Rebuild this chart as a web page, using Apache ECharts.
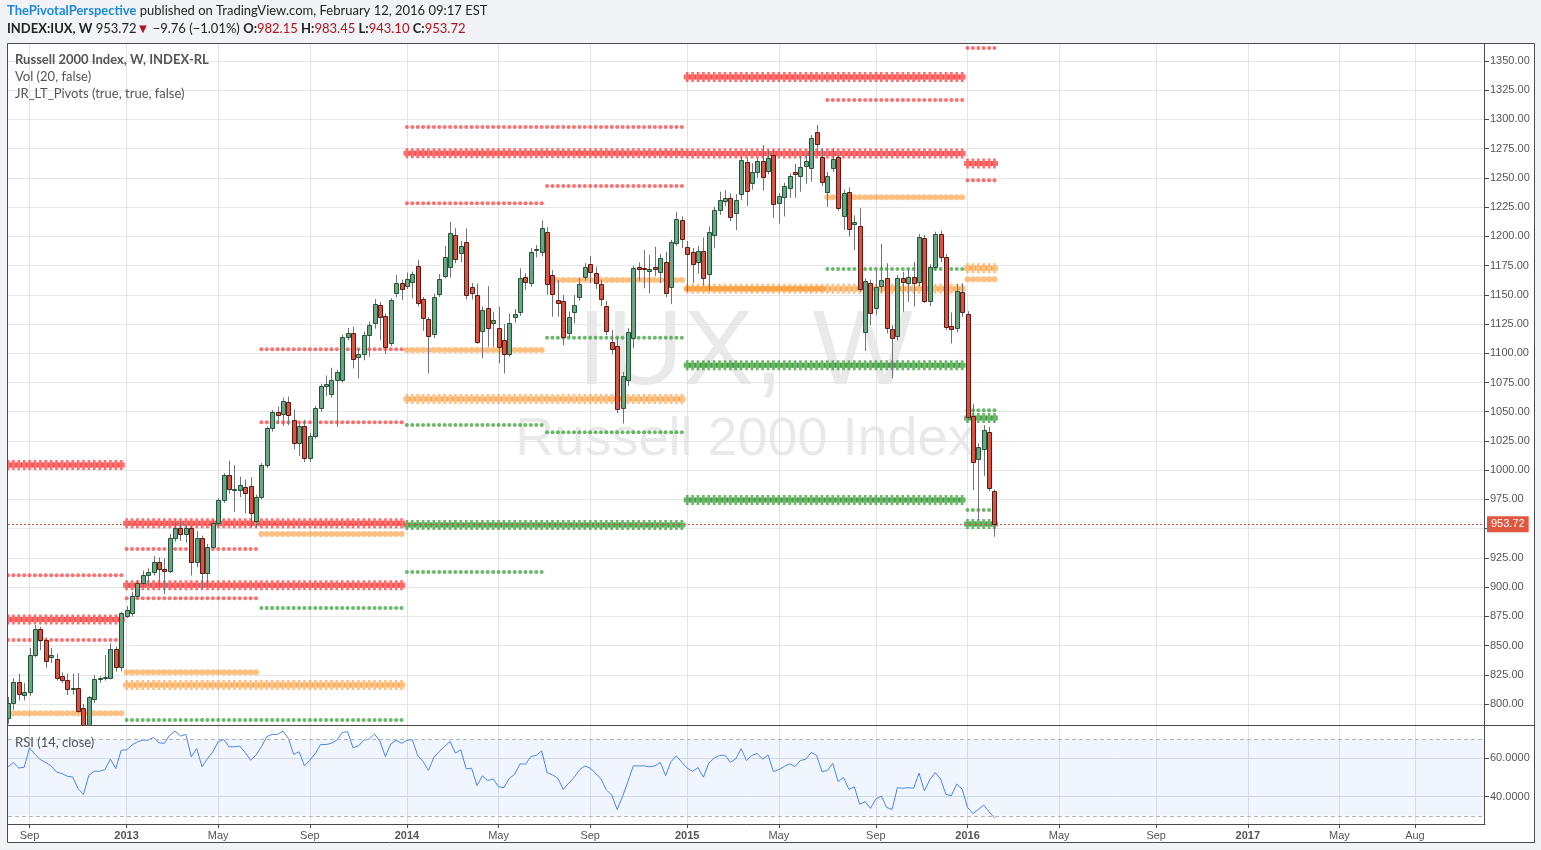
<!DOCTYPE html>
<html><head><meta charset="utf-8">
<script src="https://cdn.jsdelivr.net/npm/echarts/dist/echarts.min.js"></script>
<style>html,body{margin:0;padding:0;background:#f1f3f6;}#c{width:1541px;height:850px;}</style>
</head><body><div id="c"></div><script>
// ---------------- DATA ----------------
const firstWeek = '2012-08-06';
const weekCount = 275;
const opens = [788,801,818.6,808,810.5,842,864,854.7,840,838.5,824,820.5,812.8,813.5,796.6,775,804.3,821.4,822,822.2,847,831.6,
875.3,878,892.4,903.8,910.3,912.6,921.7,915.2,913.8,941.8,950.9,945.2,950.9,921.7,941.8,911.8,934.5,954.6,974.5,995.9,983.6,983.1,985.9,986.5,956.5,976.8,1004.4,1035.8,1049.5,1048,1058,1042.9,1022.9,1037.8,1010.2,1029.2,1052.9,1072,1064.9,1077.1,1077.1,1114,1117,1097,1099.4,1116,1125.7,1141,1131.9,1109,1151.2,1159.8,
1157.8,1161.2,1174.6,1146.1,1129,1116.2,1150.7,1166,1173.5,1201.2,1186.1,1194.9,1157,1149.8,1119.3,1138.4,1126.2,1121.3,1111.3,1099.4,1131.3,1135,1165,1160.4,1188.5,1186.9,1203.5,1166.9,1145.6,1144.7,1117,1135.6,1148.4,1165.5,1176,1168.4,1159.3,1140.7,1109.3,1106.5,1052.9,1077.1,1112.8,1173.5,1173,1170.7,1173.5,1169.2,1178.3,1156.4,1194.6,1214,
1191.1,1186.4,1177.8,1187.8,1167.5,1201.2,1222.6,1230,1232.6,1219.7,1236.2,1263.5,1245.3,1255,1264.5,1256.2,1269.6,1228.8,1233.4,1241.3,1255.3,1251.7,1259.9,1258.2,1289.5,1268.2,1238.2,1258.2,1267.6,1217.7,1237.7,1211,1208.9,1118.5,1159.8,1138.4,1157.2,1164,1120.4,1114.5,1164.1,1160.4,1165,1160.7,1198.3,1145,1174,1201.7,1182,1123.5,1121.3,1152.7,
1133.3,1046.3,1009.3,1018.4,1032.4,982.15];
const highs = [806,822,826,818,848,867.5,866,857,848,843,827,826,826,826.5,800,807,824.8,823.5,842,852,849,879,
883.8,896,906,914,916,926.6,925.5,924.6,945.5,956,956,953.5,952.5,948,944,937,957,976,997.5,1008,1004.4,994.5,992,994,979,1006,1037.5,1051.5,1054.4,1062,1062.9,1052,1040,1043,1032,1055,1074,1081,1087.6,1086,1116,1121.6,1122.7,1104,1118.5,1127,1146.4,1144,1134,1147,1167,1163,
1169,1170,1180,1148,1131,1151,1167.8,1191.8,1212.5,1207,1196,1206.9,1160,1159.8,1140,1157.5,1135.6,1140,1125,1134,1138,1172.7,1168.4,1190,1192.6,1213.6,1208,1171.2,1162.7,1150,1135.6,1149.8,1164.1,1177,1183.2,1174,1163,1145,1119.9,1114.2,1084.2,1121.4,1175,1177.8,1188.3,1184,1191.1,1185,1186.9,1197,1221.1,1217,
1196,1190,1192,1199,1208.3,1225.4,1238.2,1239.6,1236.8,1236.2,1268,1267,1262.5,1266.8,1278.2,1273.9,1273.9,1237,1246,1254,1262,1268.2,1271,1286.7,1295.3,1275,1255,1275.3,1270,1240,1242,1218,1224,1164,1163,1170.5,1193.5,1177,1124,1167,1169.7,1171.2,1178.3,1202,1201,1176,1204,1204.9,1185,1135,1159.3,1159.8,
1136,1056.6,1023,1038.5,1037,983.45];
const lows = [783,795,803,803,807,840,846,831,835,820,818,807.7,808,792.5,767,770,801,818,820,821,827.6,828,
873.6,874.7,890,900,901,910,900,894,912,939,939.5,938,910,917,899,900,933,952,972,980,964.5,977,963,951.6,950.5,975,1002,1033,1039.6,1038,1038.6,1018,1012,1007,1007,1027,1050,1063.5,1062,1037,1075,1111,1087,1078.5,1094,1097,1121,1111,1099.4,1106,1148,1145.6,
1155,1147,1140,1119.3,1082.8,1113,1148,1164,1165,1177,1178,1146,1146,1108,1095.7,1105.6,1105.6,1091.4,1082.8,1097,1126,1132,1154,1157,1182,1183,1150,1131.3,1131.3,1107,1113,1125.6,1145,1162,1160,1155,1140.4,1115.6,1099,1049,1040,1072,1104.2,1162,1155.5,1151.2,1166,1160,1148,1142.2,1192,1190,
1152.7,1160,1168,1158,1154,1189.8,1218.3,1226,1213,1205.4,1231.1,1226,1240,1250,1239,1253,1215.9,1211,1217,1233,1233,1238.2,1245,1246.8,1270,1243,1225.1,1255,1222,1205.4,1199.7,1188.3,1152.7,1102,1124.2,1132.7,1152,1117,1078.5,1111,1135.6,1144,1140,1157,1143,1140.4,1171,1178,1120,1108.5,1118,1131,
1043,983,957.4,995,982,943.10];
const closes = [801,818.6,808.5,810.5,841.9,863.9,854.7,836.8,841.5,822.2,820.5,812.8,813.5,794,775,806,821.4,822,823.5,847,831.6,878,
880.4,892.4,903.8,910.3,912.6,921.7,915.2,913.8,941.8,950.9,945.2,950.9,921.7,941.8,911.8,934,954.6,974.5,995.9,983.6,984.2,987.3,980.2,963.1,976.8,1004.4,1035.8,1049.5,1047.2,1059.2,1047.2,1022.9,1037.8,1010.2,1029.2,1052.9,1072,1073.7,1077.1,1083.7,1113.7,1117,1094.9,1099.4,1115.6,1124.2,1141.9,1130.8,1105.6,1145.6,1159.8,1154.7,
1163.2,1167.5,1143.3,1129.9,1114.8,1147.8,1163.2,1182,1202.6,1180.4,1191.8,1149.8,1151.8,1109.9,1137,1121.8,1128.5,1105.6,1099.4,1125.6,1133.3,1164.1,1161.2,1186.9,1189,1206.9,1159,1150.4,1143.3,1113.7,1130.8,1141.3,1159.3,1173.5,1169.2,1159.8,1146.1,1119,1103.7,1052.3,1080.8,1118.1,1172.7,1172,1172.2,1172,1171.7,1181.2,1151.2,1194.9,1214.6,1197.5,
1184.6,1176,1187.8,1164.1,1204.1,1222.6,1231.1,1232.6,1216.3,1231.1,1265,1239.1,1255.3,1264.5,1250.5,1266.7,1227.4,1234.5,1243.1,1251.7,1253.5,1259.7,1264.8,1283.8,1279,1246.8,1251.7,1265.8,1224.5,1237.4,1206,1212,1155,1161.5,1134.7,1156.4,1162.7,1121.8,1112.8,1164.1,1161.2,1165,1160.4,1199.2,1145,1174,1201.7,1182,1122.6,1120.7,1153.5,1135,
1045.5,1006.7,1019.5,1034.4,984.5,953.72];
const rsi = [55.6,57.8,55.0,55.4,65.6,62.1,59.4,57.9,56.1,52.9,52.1,50.7,50.3,44.2,41.2,51.2,53.3,53.3,54.2,59.6,54.7,64.3,
64.5,67.0,68.7,69.6,69.6,71.0,68.2,67.9,72.2,74.3,71.7,72.6,60.8,65.2,55.6,59.9,63.5,68.7,69.9,66.1,66.1,66.5,63.1,59.1,61.7,66.1,71.4,72.6,72.6,74.3,70.5,62.1,63.5,56.1,59.1,62.6,67.3,67.3,67.9,69.6,73.6,74.0,65.6,66.5,69.6,70.1,72.8,68.9,61.0,67.5,69.5,67.9,
69.5,69.8,61.6,58.4,53.7,60.5,63.7,66.3,68.9,62.8,64.5,54.5,54.9,45.8,50.9,48.4,49.3,45.2,44.7,49.6,51.7,57.2,57.0,61.0,61.6,64.0,52.6,51.4,49.6,43.8,47.0,50.0,54.0,56.1,54.9,52.3,49.3,43.5,40.9,33.3,40.0,47.9,56.1,56.1,56.1,55.6,56.1,57.9,51.0,58.4,61.4,58.0,
54.9,53.3,55.2,50.2,57.5,60.2,61.6,61.6,58.0,59.8,65.1,58.9,61.6,62.6,59.6,61.9,53.1,54.2,55.8,57.2,55.8,58.9,59.6,63.1,61.6,53.1,53.7,57.4,47.9,50.0,43.8,45.2,36.0,37.4,33.9,38.8,40.3,34.4,33.3,44.7,44.4,44.7,44.4,52.3,43.1,48.8,52.6,49.3,41.2,40.5,46.6,44.0,
34.4,31.2,33.3,35.6,32.1,28.9];
// pivot levels: [period start, period end, level]
const redCross = [['2012-07-01','2012-12-31',1004.4],['2012-07-01','2012-12-31',872.2],['2013-01-01','2013-12-31',954.6],['2013-01-01','2013-12-31',901.5],
  ['2014-01-01','2014-12-31',1271.2],['2015-01-01','2015-12-31',1336.3],['2015-01-01','2015-12-31',1270.8],['2016-01-01','2016-12-31',1262.3]];
const redDot = [['2012-07-01','2012-12-31',910.1],['2012-07-01','2012-12-31',854.7],['2013-01-01','2013-06-30',932.6],['2013-01-01','2013-06-30',890.4],
  ['2013-07-01','2013-12-31',1103.5],['2013-07-01','2013-12-31',1040.9],['2014-01-01','2014-12-31',1293.5],['2014-01-01','2014-06-30',1228.3],
  ['2014-07-01','2014-12-31',1243.1],['2015-07-01','2015-12-31',1316.6],['2016-01-01','2016-06-30',1361.1],['2016-01-01','2016-06-30',1247.9]];
const orangeCross = [['2013-01-01','2013-12-31',816.3],['2014-01-01','2014-12-31',1060.8],['2015-01-01','2015-12-31',1155.3],['2016-01-01','2016-12-31',1172.7]];
const orangeDot = [['2012-07-01','2012-12-31',792.0],['2013-01-01','2013-06-30',827.1],['2013-07-01','2013-12-31',945.4],['2014-01-01','2014-06-30',1102.8],
  ['2014-07-01','2014-12-31',1162.7],['2015-01-01','2015-06-30',1155.3],['2015-07-01','2015-12-31',1233.5],['2016-01-01','2016-06-30',1163.3]];
const greenCross = [['2014-01-01','2014-12-31',953.1],['2015-01-01','2015-12-31',1089.7],['2015-01-01','2015-12-31',974.5],['2016-01-01','2016-12-31',1044.6],['2016-01-01','2016-12-31',954.0]];
const greenDot = [['2013-01-01','2013-12-31',786.3],['2013-07-01','2013-12-31',882.1],['2014-01-01','2014-06-30',912.9],['2014-01-01','2014-06-30',1038.6],
  ['2014-07-01','2014-12-31',1113.3],['2014-07-01','2014-12-31',1032.4],['2015-07-01','2015-12-31',1172.1],['2016-01-01','2016-06-30',1051.3],['2016-01-01','2016-06-30',966.0]];
const tickLabels = [['2012-09-03','Sep'],['2013-01-07','2013'],['2013-05-06','May'],['2013-09-02','Sep'],['2014-01-06','2014'],['2014-05-05','May'],
  ['2014-09-01','Sep'],['2015-01-05','2015'],['2015-05-04','May'],['2015-09-07','Sep'],['2016-01-04','2016'],['2016-05-02','May'],['2016-09-05','Sep'],
  ['2017-01-02','2017'],['2017-05-01','May'],['2017-08-07','Aug']];
const priceTicks = {min: 782.04, max: 1365.4, step: 25};
const rsiTicks = {min: 25.7, max: 77.5, step: 20, lower: 30, upper: 70};

// ---------------- BUILD ----------------
const weeks = [];
{ const t0 = Date.parse(firstWeek + 'T00:00:00Z');
  for (let k = 0; k < weekCount; k++) weeks.push(new Date(t0 + k * 7 * 86400000).toISOString().slice(0, 10)); }
const labelAt = {};
tickLabels.forEach(([d, t]) => { const i = weeks.indexOf(d); if (i >= 0) labelAt[i] = t; });
const showAt = (i) => labelAt[i] !== undefined;
const nBars = closes.length;
const candleData = closes.map((c, i) => [i, opens[i], c, lows[i], highs[i]]);
function segPoints(segs) {
  const out = [];
  segs.forEach(([s, e, v]) => weeks.forEach((w, i) => { if (i < nBars && w >= s && w <= e) out.push([i, v]); }));
  return out;
}
const lastClose = closes[nBars - 1];
const plusPath = 'path://M0,4.5H4V0H9V4.5H13V13.5H9V18H4V13.5H0Z';
const RED = 'rgba(255,62,62,0.93)', ORANGE = 'rgba(255,148,40,0.72)', GREEN = 'rgba(40,150,40,0.85)';
function markerSeries(segs, color, symbol, size) {
  return { type: 'scatter', xAxisIndex: 0, yAxisIndex: 0, data: segPoints(segs), symbol: symbol, symbolSize: size,
    itemStyle: { color: color }, silent: true, z: 3 };
}
const FONT = 'Lato, "Liberation Sans", sans-serif';
const BG = '#f1f3f6';
const chart = echarts.init(document.getElementById('c'), null, { renderer: 'canvas' });
const gridL = 8, gridR = 56;
const option = {
  animation: false,
  backgroundColor: BG,
  textStyle: { fontFamily: '"Liberation Sans", Arial, sans-serif' },
  grid: [
    { left: gridL, right: gridR, top: 43, height: 682 },
    { left: gridL, right: gridR, top: 725, height: 99 }
  ],
  xAxis: [
    { type: 'category', gridIndex: 0, data: weeks, boundaryGap: false,
      axisLine: { show: false }, axisTick: { show: false }, axisLabel: { show: false },
      splitLine: { show: true, interval: showAt, lineStyle: { color: '#e3e3e3' } } },
    { type: 'category', gridIndex: 1, data: weeks, boundaryGap: false,
      axisLine: { show: true, lineStyle: { color: '#4a4a4a' } },
      axisTick: { show: true, interval: showAt, length: 4, lineStyle: { color: '#4a4a4a' } },
      axisLabel: { show: true, interval: showAt, margin: 6, color: '#555', fontSize: 11,
        formatter: (v, i) => { const t = labelAt[i]; if (t === undefined) return ''; return /^\d{4}$/.test(t) ? '{b|' + t + '}' : t; },
        rich: { b: { fontWeight: 'bold', color: '#555', fontSize: 11 } } },
      splitLine: { show: true, interval: showAt, lineStyle: { color: '#dfe2e8' } } }
  ],
  yAxis: [
    { type: 'value', gridIndex: 0, position: 'right', min: priceTicks.min, max: priceTicks.max,
      minInterval: priceTicks.step, maxInterval: priceTicks.step, splitNumber: 23,
      axisLine: { show: false }, axisTick: { show: true, length: 4, lineStyle: { color: '#4a4a4a' } },
      axisLabel: { show: true, showMinLabel: false, showMaxLabel: false, margin: 5, padding: [3, 0, 0, 0], color: '#555', fontSize: 11, formatter: v => v.toFixed(2) },
      splitLine: { show: true, lineStyle: { color: '#e6e6e6' } } },
    { type: 'value', gridIndex: 1, position: 'right', min: rsiTicks.min, max: rsiTicks.max,
      minInterval: rsiTicks.step, maxInterval: rsiTicks.step, splitNumber: 2,
      axisLine: { show: false }, axisTick: { show: true, length: 4, lineStyle: { color: '#4a4a4a' } },
      axisLabel: { show: true, showMinLabel: false, showMaxLabel: false, margin: 5, padding: [3, 0, 0, 0], color: '#555', fontSize: 11, formatter: v => v.toFixed(4) },
      splitLine: { show: true, lineStyle: { color: '#dde0e8' } } }
  ],
  series: [
    markerSeries(orangeDot, ORANGE, 'circle', 6),
    markerSeries(orangeCross, ORANGE, plusPath, [7, 10]),
    markerSeries(greenDot, GREEN, 'circle', 4),
    markerSeries(greenCross, GREEN, plusPath, [7, 10]),
    markerSeries(redDot, RED, 'circle', 4),
    markerSeries(redCross, RED, plusPath, [7, 10]),
    { type: 'custom', xAxisIndex: 0, yAxisIndex: 0, data: candleData, clip: true, z: 5,
      encode: { x: 0, y: [1, 2, 3, 4] },
      renderItem: (params, api) => {
        const i = api.value(0), o = api.value(1), c = api.value(2), l = api.value(3), h = api.value(4);
        const pO = api.coord([i, o]), pC = api.coord([i, c]), pL = api.coord([i, l]), pH = api.coord([i, h]);
        const cx = Math.round(pO[0]);
        const up = c >= o;
        let top = Math.round(Math.min(pO[1], pC[1])) + 0.5, bot = Math.round(Math.max(pO[1], pC[1])) + 0.5;
        if (bot - top < 1) bot = top + 1;
        return { type: 'group', children: [
          { type: 'line', shape: { x1: cx + 0.5, y1: pH[1], x2: cx + 0.5, y2: pL[1] }, style: { stroke: '#737375', lineWidth: 1 } },
          { type: 'rect', shape: { x: cx - 1.5, y: top, width: 4, height: bot - top },
            style: { fill: up ? '#6ba583' : '#d75442', stroke: up ? '#225437' : '#5b1a13', lineWidth: 1 } }
        ] };
      },
      markLine: { silent: true, symbol: 'none', animation: false,
        data: [{ yAxis: lastClose }],
        lineStyle: { color: '#e0533f', type: [2, 2], width: 1 },
        label: { show: true, position: 'end', distance: 2, formatter: lastClose.toFixed(2), color: '#fff',
          backgroundColor: '#df5740', padding: [3, 4, 2, 4], fontSize: 11, fontFamily: '"Liberation Sans", Arial, sans-serif' } }
    },
    { type: 'line', xAxisIndex: 1, yAxisIndex: 1, data: rsi, showSymbol: false, symbol: 'none', z: 4,
      lineStyle: { color: '#4d86ea', width: 1 },
      markArea: { silent: true, data: [[{ yAxis: rsiTicks.lower }, { yAxis: rsiTicks.upper }]], itemStyle: { color: 'rgba(50,110,235,0.07)' } },
      markLine: { silent: true, symbol: 'none', label: { show: false },
        data: [{ yAxis: rsiTicks.lower }, { yAxis: rsiTicks.upper }],
        lineStyle: { color: '#aeb2bd', type: [4, 3], width: 1 } } }
  ],
  graphic: [
    { type: 'rect', z: -100, shape: { x: 7, y: 43, width: 1528, height: 800 }, style: { fill: '#ffffff' } },
    { type: 'text', z: -50, x: 745, y: 355, style: { text: 'IUX, W', font: '106px "Liberation Sans", Arial, sans-serif', fill: 'rgba(0,0,0,0.085)', align: 'center', verticalAlign: 'middle' } },
    { type: 'text', z: -50, x: 745, y: 440, style: { text: 'Russell 2000 Index', font: '54px "Liberation Sans", Arial, sans-serif', fill: 'rgba(0,0,0,0.085)', align: 'center', verticalAlign: 'middle' } },
    { type: 'rect', z: 90, silent: true, shape: { x: 0, y: 43, width: 7.5, height: 800 }, style: { fill: BG } },
    { type: 'rect', z: 100, silent: true, shape: { x: 7.5, y: 43.5, width: 1527, height: 799 }, style: { fill: 'none', stroke: '#4a4a4a', lineWidth: 1 } },
    { type: 'line', z: 100, shape: { x1: 7, y1: 725.5, x2: 1535, y2: 725.5 }, style: { stroke: '#4a4a4a', lineWidth: 1 } },
    { type: 'line', z: 100, shape: { x1: 1484.5, y1: 43, x2: 1484.5, y2: 824 }, style: { stroke: '#4a4a4a', lineWidth: 1 } },
    { type: 'text', z: 50, x: 7, y: 11, style: { text: '{a|ThePivotalPerspective}{n| published on TradingView.com, February 12, 2016 09:17 EST}', verticalAlign: 'middle',
        rich: { a: { fill: '#1f8bd8', fontWeight: 'bold', fontSize: 13, fontFamily: FONT }, n: { fill: '#222', fontSize: 13, fontFamily: FONT } } } },
    { type: 'text', z: 50, x: 7, y: 29, style: { verticalAlign: 'middle',
        text: '{b|INDEX:IUX, W}{n| 953.72}{r|▼}{n| −9.76 (−1.01%) }{b|O:}{r|982.15}{n| }{b|H:}{r|983.45}{n| }{b|L:}{r|943.10}{n| }{b|C:}{r|953.72}',
        rich: { b: { fill: '#222', fontWeight: 'bold', fontSize: 13, fontFamily: FONT }, n: { fill: '#222', fontSize: 13, fontFamily: FONT }, r: { fill: '#b0141a', fontSize: 13, fontFamily: FONT } } } },
    { type: 'text', z: 50, x: 15, y: 60, style: { text: 'Russell 2000 Index, W, INDEX-RL', verticalAlign: 'middle', fill: '#555', font: 'bold 13px ' + FONT } },
    { type: 'text', z: 50, x: 15, y: 77, style: { text: 'Vol (20, false)', verticalAlign: 'middle', fill: '#555', font: '13px ' + FONT } },
    { type: 'text', z: 50, x: 15, y: 94, style: { text: 'JR_LT_Pivots (true, true, false)', verticalAlign: 'middle', fill: '#555', font: '13px ' + FONT } },
    { type: 'text', z: 50, x: 15, y: 743, style: { text: 'RSI (14, close)', verticalAlign: 'middle', fill: '#555', font: '13px ' + FONT } }
  ]
};
chart.setOption(option);
</script></body></html>
